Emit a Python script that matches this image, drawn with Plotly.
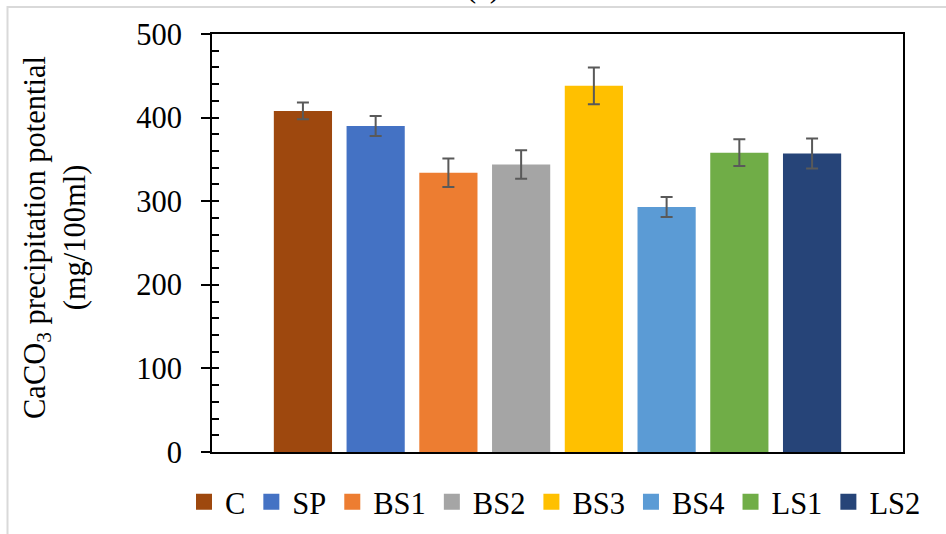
import plotly.graph_objects as go

# Samples, mean CaCO3 precipitation (mg/100ml) and error half-widths
categories = ["C", "SP", "BS1", "BS2", "BS3", "BS4", "LS1", "LS2"]
values = [408, 390, 334, 344, 438, 293, 358, 357]
errors = [10, 12, 17, 17, 22, 12, 16, 18]
colors = ["#9E480E", "#4472C4", "#ED7D31", "#A5A5A5",
          "#FFC000", "#5B9BD5", "#70AD47", "#264478"]
y_ticks = [0, 100, 200, 300, 400, 500]

FONT = "Liberation Serif, Times New Roman, serif"
FS = 30.5

# plot area in pixels
L, R, T, B = 212, 903, 34, 452
W, H = 946, 534


def px_x(p):
    return (p - L) / (R - L)


def px_y(p):
    return (B - p) / (B - T)


fig = go.Figure()

for cat, val, err, col in zip(categories, values, errors, colors):
    fig.add_trace(go.Bar(
        x=[cat], y=[val], width=0.8, name=cat,
        marker=dict(color=col, line=dict(width=0)),
        error_y=dict(type="data", array=[err], visible=True,
                     color="#595959", thickness=2, width=6),
        showlegend=False,
    ))

# legend entries with square swatches
for cat, col in zip(categories, colors):
    fig.add_trace(go.Scatter(
        x=[None], y=[None], mode="markers", name=cat,
        marker=dict(symbol="square", size=16, color=col),
        showlegend=True,
    ))

# inside minor ticks every 20
fig.add_trace(go.Scatter(x=[None], y=[None], yaxis="y2", showlegend=False))

fig.update_layout(
    width=W, height=H,
    margin=dict(l=L, r=W - R, t=T, b=H - B, pad=0, autoexpand=False),
    paper_bgcolor="white", plot_bgcolor="white",
    barmode="overlay",
    font=dict(family=FONT, size=FS, color="black"),
    xaxis=dict(
        type="category", range=[-1.25, 8.25],
        showticklabels=False, ticks="", showgrid=False, zeroline=False,
        showline=True, linecolor="black", linewidth=2, mirror=True,
        fixedrange=True,
    ),
    yaxis=dict(
        range=[0, 500], tickvals=y_ticks, ticktext=[str(v) for v in y_ticks],
        ticks="outside", ticklen=9, tickwidth=2, tickcolor="black",
        ticklabelstandoff=13,
        showgrid=False, zeroline=False,
        showline=True, linecolor="black", linewidth=2, mirror=True,
        tickfont=dict(family=FONT, size=FS, color="black"),
    ),
    yaxis2=dict(
        overlaying="y", side="left", range=[0, 500], dtick=20,
        ticks="inside", ticklen=7, tickwidth=2, tickcolor="black",
        showticklabels=False, showgrid=False, zeroline=False, showline=False,
    ),
    legend=dict(
        orientation="h", x=px_x(183), xanchor="left",
        y=px_y(502), yanchor="middle",
        font=dict(family=FONT, size=FS, color="black"),
        itemsizing="trace", itemwidth=32, bgcolor="rgba(0,0,0,0)",
    ),
    showlegend=True,
)

# y-axis title
fig.add_annotation(
    xref="paper", yref="paper", x=px_x(55), y=px_y(238),
    xanchor="center", yanchor="middle", textangle=-90, showarrow=False,
    text="CaCO<sub>3</sub> precipitation potential<br>(mg/100ml)",
    font=dict(family=FONT, size=FS, color="black"),
)

# panel label
fig.add_annotation(
    xref="paper", yref="paper", x=px_x(483), y=px_y(6),
    xanchor="center", yanchor="bottom", showarrow=False,
    text="(a)", font=dict(family=FONT, size=FS, color="black"),
)

# light frame around the chart
fig.add_shape(
    type="rect", xref="paper", yref="paper",
    x0=px_x(7.5), x1=px_x(W + 20), y0=px_y(W), y1=px_y(7),
    line=dict(color="#D9D9D9", width=2), fillcolor="rgba(0,0,0,0)",
    layer="below",
)

fig.write_html("out.html")
